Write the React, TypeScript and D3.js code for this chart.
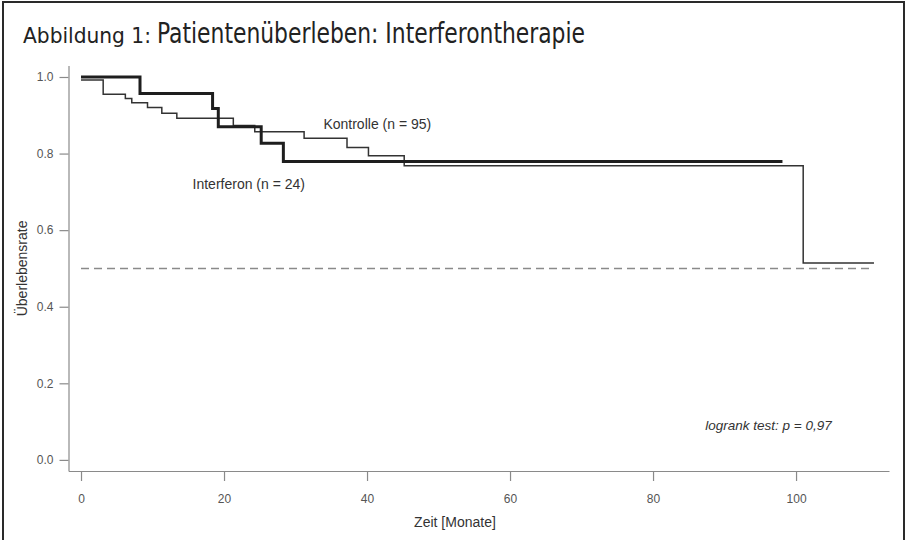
import React, { useEffect, useRef } from 'react'
import * as d3 from 'd3'

const WIDTH = 906
const HEIGHT = 540

// Kaplan-Meier steps (months, survival)
const kontrolleMonths = [0, 3.1, 6.2, 7.1, 9.3, 11.3, 13.4, 21.3, 24.3, 31.2, 37.2, 40.2, 45.2, 101.0, 110.9]
const kontrolleSurvival = [0.992, 0.955, 0.944, 0.933, 0.92, 0.905, 0.892, 0.873, 0.857, 0.84, 0.816, 0.794, 0.768, 0.514, 0.514]
const interferonMonths = [0, 8.25, 18.4, 19.2, 25.2, 28.3, 98.1]
const interferonSurvival = [1.0, 0.957, 0.918, 0.87, 0.827, 0.779, 0.779]

const xTicks = [0, 20, 40, 60, 80, 100]
const yTicks = [0, 0.2, 0.4, 0.6, 0.8, 1.0]
const medianLevel = 0.5
const medianEnd = 110.9

const TITLE_SMALL = 'Abbildung 1:'
const TITLE_BIG = 'Patientenüberleben: Interferontherapie'
const X_TITLE = 'Zeit [Monate]'
const Y_TITLE = 'Überlebensrate'
const KONTROLLE_LABEL = 'Kontrolle (n = 95)'
const INTERFERON_LABEL = 'Interferon (n = 24)'
const LOGRANK = 'logrank test: p = 0,97'

const NARROW = "'Liberation Sans Narrow', 'DejaVu Sans Condensed', 'Arial Narrow', sans-serif"
const SANS = "'Liberation Sans', Arial, Helvetica, sans-serif"

const x = d3.scaleLinear().domain([-1.75, 113]).range([68.5, 889])
const y = d3.scaleLinear().domain([-0.029, 1.03]).range([471, 65.5])

const toPoints = (months: number[], surv: number[]) =>
  months.map((m, i) => [m, surv[i]] as [number, number])

const step = d3.line<[number, number]>()
  .x(d => x(d[0]))
  .y(d => y(d[1]))
  .curve(d3.curveStepAfter)

export default function App() {
  const xAxisRef = useRef<SVGGElement>(null)
  const yAxisRef = useRef<SVGGElement>(null)

  useEffect(() => {
    const xa = d3.select(xAxisRef.current!)
    xa.call(
      d3.axisBottom(x)
        .tickValues(xTicks)
        .tickFormat(d3.format('d'))
        .tickSize(10)
        .tickSizeOuter(0)
        .tickPadding(13)
    )
    const ya = d3.select(yAxisRef.current!)
    ya.call(
      d3.axisLeft(y)
        .tickValues(yTicks)
        .tickFormat(d3.format('.1f'))
        .tickSize(9)
        .tickSizeOuter(0)
        .tickPadding(6)
    )
    for (const g of [xa, ya]) {
      g.select('.domain').attr('stroke', '#8a8a8a').attr('stroke-width', 1.2)
      g.selectAll('.tick line').attr('stroke', '#8a8a8a').attr('stroke-width', 1.2)
      g.selectAll('.tick text')
        .attr('fill', '#555')
        .attr('font-size', 12)
        .attr('font-family', SANS)
    }
  }, [])

  return (
    <svg width={WIDTH} height={HEIGHT} style={{ display: 'block', position: 'absolute', left: 0, top: 0, background: '#fff' }}>
      <rect x={0} y={0} width={WIDTH} height={HEIGHT} fill="#fff" />
      <rect x={3} y={2} width={901} height={HEIGHT + 20} fill="none" stroke="#2a2a2a" strokeWidth={2} />

      <text x={23} y={43} fontFamily={NARROW} fontSize={22} fill="#222"
        textLength={128} lengthAdjust="spacingAndGlyphs">{TITLE_SMALL}</text>
      <text x={157} y={43} fontFamily={NARROW} fontSize={28} fill="#222"
        textLength={428} lengthAdjust="spacingAndGlyphs">{TITLE_BIG}</text>

      <g ref={xAxisRef} transform={`translate(0, ${y.range()[0]})`} />
      <g ref={yAxisRef} transform={`translate(${x.range()[0]}, 0)`} />

      <line x1={x(0)} x2={x(medianEnd)} y1={y(medianLevel)} y2={y(medianLevel)}
        stroke="#8a8a8a" strokeWidth={1.4} strokeDasharray="8,5" />

      <path d={step(toPoints(kontrolleMonths, kontrolleSurvival)) || ''}
        fill="none" stroke="#333" strokeWidth={1.5} />
      <path d={step(toPoints(interferonMonths, interferonSurvival)) || ''}
        fill="none" stroke="#1e1e1e" strokeWidth={3} />

      <text x={x(33.9)} y={y(0.876)} dy="0.35em" fontFamily={SANS} fontSize={14} fill="#333">{KONTROLLE_LABEL}</text>
      <text x={x(15.6)} y={y(0.72)} dy="0.35em" fontFamily={SANS} fontSize={14} fill="#333">{INTERFERON_LABEL}</text>
      <text x={x(87.3)} y={y(0.091)} dy="0.35em" fontFamily={SANS} fontSize={13.5} fontStyle="italic" fill="#333">{LOGRANK}</text>

      <text x={x(52.3)} y={522} dy="0.35em" textAnchor="middle" fontFamily={SANS} fontSize={14} fill="#333">{X_TITLE}</text>
      <text transform={`translate(22, ${y(0.5)}) rotate(-90)`} dy="0.35em" textAnchor="middle"
        fontFamily={SANS} fontSize={14} fill="#333">{Y_TITLE}</text>
    </svg>
  )
}
